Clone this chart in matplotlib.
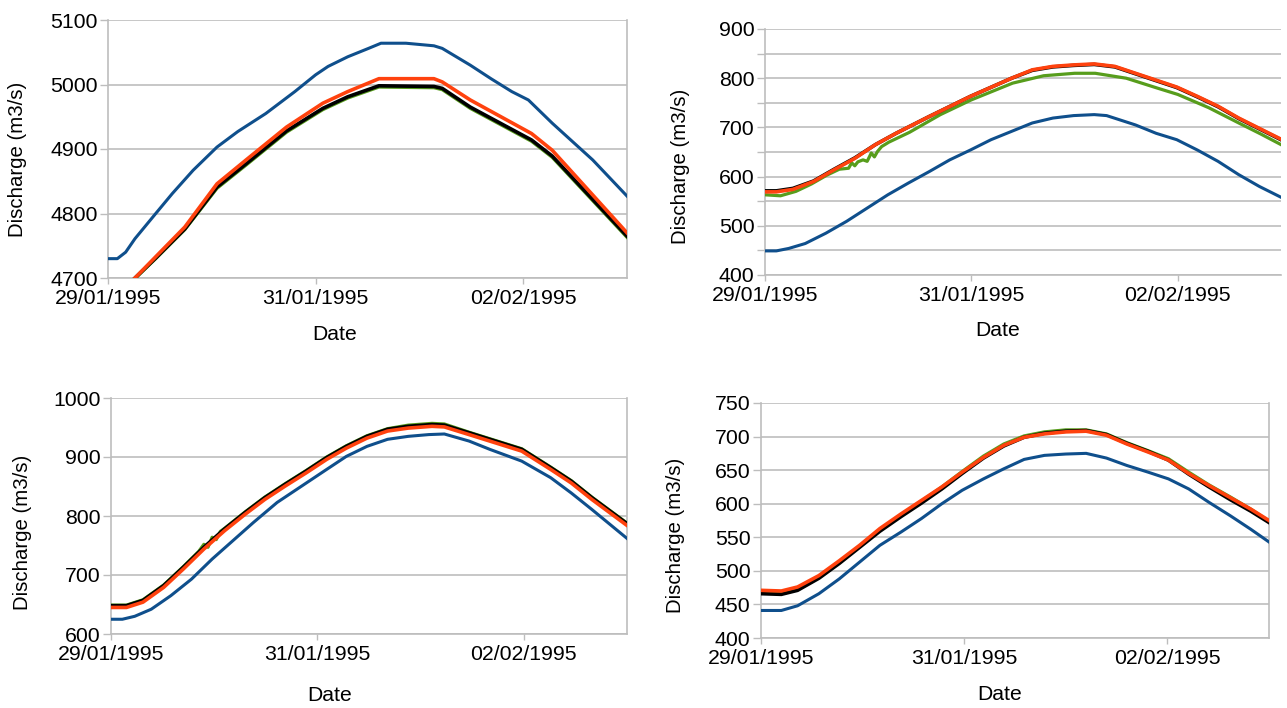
import numpy as np
import pandas as pd
import matplotlib
matplotlib.use('Agg')
import matplotlib.pyplot as plt
import matplotlib.dates as mdates
from matplotlib.ticker import MultipleLocator

plt.rcParams['font.family'] = ['Liberation Sans', 'DejaVu Sans']

start = pd.Timestamp('1995-01-29')

# panel 1 (days since 29/01/1995 00:00, discharge m3/s)
p1_blue_t = [0, 0.09, 0.17, 0.26, 0.46, 0.62, 0.82, 1.05, 1.25, 1.52, 1.80, 2.0, 2.12, 2.31, 2.51, 2.63, 2.87, 3.14, 3.22, 3.49, 3.69, 3.89, 4.05, 4.28, 4.67, 5.0]
p1_blue = [4730, 4730, 4740, 4761, 4800, 4831, 4867, 4903, 4927, 4955, 4989, 5015, 5028, 5043, 5056, 5064, 5064, 5060, 5056, 5030, 5009, 4989, 4976, 4940, 4883, 4827]
p1_t = [0, 0.26, 0.46, 0.74, 1.05, 1.33, 1.72, 2.07, 2.31, 2.61, 3.14, 3.22, 3.49, 4.08, 4.28, 5.0]
p1_red = [4656, 4700, 4733, 4779, 4846, 4883, 4934, 4971, 4989, 5009, 5009, 5004, 4976, 4924, 4898, 4770]
p1_black = [4656, 4700, 4731, 4776, 4841, 4877, 4928, 4963, 4981, 4998, 4997, 4994, 4965, 4914, 4889, 4765]
p1_green = [4655, 4699, 4730, 4775, 4839, 4875, 4926, 4961, 4979, 4996, 4995, 4992, 4963, 4912, 4887, 4763]

# panel 2
p2_blue_t = [0, 0.11, 0.23, 0.39, 0.59, 0.79, 0.99, 1.19, 1.39, 1.59, 1.79, 1.99, 2.19, 2.39, 2.59, 2.79, 2.99, 3.19, 3.31, 3.59, 3.79, 3.99, 4.19, 4.39, 4.59, 4.79, 5.0]
p2_blue = [449, 449, 454, 464, 485, 509, 536, 563, 587, 610, 634, 654, 675, 692, 709, 719, 724, 726, 724, 705, 688, 675, 654, 631, 604, 580, 558]
p2_t = [0, 0.11, 0.27, 0.47, 0.67, 0.87, 1.07, 1.27, 1.59, 1.99, 2.39, 2.59, 2.79, 2.99, 3.19, 3.39, 3.59, 3.99, 4.19, 4.39, 4.59, 4.79, 5.0]
p2_red = [569, 569, 574, 590, 614, 637, 665, 688, 722, 763, 800, 817, 824, 827, 829, 824, 810, 782, 763, 743, 719, 698, 676]
p2_black = [571, 571, 576, 591, 615, 638, 665, 688, 722, 763, 800, 816, 823, 826, 828, 823, 809, 781, 762, 742, 718, 697, 675]
p2_green_t = [0, 0.15, 0.3, 0.45, 0.6, 0.72, 0.81, 0.84, 0.87, 0.9, 0.95, 0.99, 1.03, 1.06, 1.09, 1.13, 1.2, 1.4, 1.7, 2.0, 2.4, 2.7, 3.0, 3.2, 3.5, 3.8, 4.0, 4.3, 4.6, 4.8, 5.0]
p2_green = [563, 561, 570, 585, 603, 615, 617, 628, 622, 630, 634, 631, 648, 640, 651, 661, 670, 690, 726, 756, 790, 805, 810, 810, 800, 780, 767, 740, 708, 687, 665]

# panel 3
p3_blue_t = [0, 0.11, 0.23, 0.39, 0.58, 0.78, 0.98, 1.18, 1.38, 1.61, 1.85, 2.09, 2.28, 2.48, 2.68, 2.88, 3.08, 3.23, 3.47, 3.67, 3.98, 4.26, 4.46, 4.66, 5.0]
p3_blue = [625, 625, 630, 642, 665, 693, 727, 758, 789, 823, 851, 879, 901, 918, 930, 935, 938, 939, 927, 913, 893, 865, 839, 811, 762]
p3_t = [0, 0.15, 0.31, 0.51, 0.70, 0.90, 1.10, 1.30, 1.49, 1.69, 1.89, 2.09, 2.28, 2.48, 2.68, 2.88, 3.11, 3.23, 3.47, 3.67, 3.98, 4.26, 4.46, 4.66, 5.0]
p3_red = [645, 645, 654, 679, 710, 744, 775, 803, 828, 851, 873, 896, 915, 932, 944, 949, 952, 951, 938, 927, 910, 879, 856, 828, 784]
p3_black = [648, 648, 657, 682, 713, 747, 778, 806, 831, 854, 876, 899, 918, 935, 947, 952, 955, 954, 941, 930, 913, 882, 859, 831, 787]
p3_green_t = [0, 0.15, 0.31, 0.51, 0.70, 0.85, 0.9, 0.94, 0.98, 1.02, 1.06, 1.10, 1.30, 1.49, 1.69, 1.89, 2.09, 2.28, 2.48, 2.68, 2.88, 3.11, 3.23, 3.47, 3.67, 3.98, 4.26, 4.46, 4.66, 5.0]
p3_green = [649, 649, 658, 683, 714, 740, 752, 747, 764, 760, 774, 779, 807, 832, 855, 877, 900, 919, 936, 948, 954, 957, 956, 942, 931, 914, 883, 860, 832, 788]

# panel 4
p4_t = [0, 0.2, 0.36, 0.57, 0.77, 0.97, 1.17, 1.38, 1.58, 1.78, 1.98, 2.19, 2.39, 2.59, 2.79, 3.0, 3.2, 3.4, 3.6, 3.81, 4.01, 4.21, 4.41, 4.62, 4.82, 5.0]
p4_blue = [441, 441, 448, 466, 488, 513, 538, 558, 578, 600, 620, 637, 652, 666, 672, 674, 675, 668, 657, 647, 637, 622, 602, 582, 562, 543]
p4_red = [471, 470, 476, 493, 515, 538, 563, 585, 605, 625, 647, 669, 687, 699, 704, 707, 708, 702, 689, 677, 665, 645, 627, 609, 592, 575]
p4_black = [466, 465, 471, 489, 511, 535, 559, 581, 601, 622, 645, 668, 686, 699, 705, 708, 709, 703, 690, 678, 665, 644, 625, 606, 589, 572]
p4_green = [467, 466, 472, 490, 512, 536, 561, 583, 604, 625, 648, 671, 689, 701, 707, 710, 710, 704, 691, 679, 667, 647, 628, 610, 592, 574]

BLUE = '#0f4f8c'
RED = '#ff420e'
GREEN = '#579d1c'
GRID = '#bdbdbd'


def dates(t):
    return start + pd.to_timedelta(t, unit='D')


W, H = 1287, 708
fig = plt.figure(figsize=(W / 100, H / 100), dpi=100)


def make_ax(l, r, top, bot):
    return fig.add_axes([l / W, (H - bot) / H, (r - l) / W, (bot - top) / H])


panels = [
    dict(box=(108, 627, 20, 278), ylim=(4700, 5100), step=100, minor=None,
         blue=(p1_blue_t, p1_blue), green=(p1_t, p1_green), black=(p1_t, p1_black), red=(p1_t, p1_red),
         xlab=(0.437, -0.22), ylab=(-0.175, 0.46), right=True),
    dict(box=(765, 1281, 29, 275), ylim=(400, 900), step=100, minor=50,
         blue=(p2_blue_t, p2_blue), green=(p2_green_t, p2_green), black=(p2_t, p2_black), red=(p2_t, p2_red),
         xlab=(0.45, -0.225), ylab=(-0.163, 0.44), right=False),
    dict(box=(111, 627, 398, 634), ylim=(600, 1000), step=100, minor=None,
         blue=(p3_blue_t, p3_blue), green=(p3_green_t, p3_green), black=(p3_t, p3_black), red=(p3_t, p3_red),
         xlab=(0.424, -0.26), ylab=(-0.172, 0.432), right=True),
    dict(box=(761, 1269, 403, 638), ylim=(400, 750), step=50, minor=None,
         blue=(p4_t, p4_blue), green=(p4_t, p4_green), black=(p4_t, p4_black), red=(p4_t, p4_red),
         xlab=(0.47, -0.24), ylab=(-0.169, 0.438), right=True),
]

for p in panels:
    ax = make_ax(*p['box'])
    ax.plot(dates(p['blue'][0]), p['blue'][1], color=BLUE, lw=2.2, zorder=3)
    ax.plot(dates(p['green'][0]), p['green'][1], color=GREEN, lw=2.3, zorder=4)
    ax.plot(dates(p['black'][0]), p['black'][1], color='black', lw=2.6, zorder=5)
    ax.plot(dates(p['red'][0]), p['red'][1], color=RED, lw=2.6, zorder=6)

    ax.set_xlim(start, start + pd.Timedelta(days=5))
    ax.set_ylim(*p['ylim'])
    ax.yaxis.set_major_locator(MultipleLocator(p['step']))
    if p['minor']:
        ax.yaxis.set_minor_locator(MultipleLocator(p['minor']))
        ax.grid(True, axis='y', which='minor', color=GRID, lw=1.2)
        ax.tick_params(axis='y', which='minor', length=5.5, color=GRID, width=1)
    ax.xaxis.set_major_locator(mdates.DayLocator(bymonthday=[29, 31, 2]))
    ax.xaxis.set_major_formatter(mdates.DateFormatter('%d/%m/%Y'))
    ax.grid(True, axis='y', which='major', color=GRID, lw=1.2)
    ax.set_axisbelow(True)

    for s in ax.spines.values():
        s.set_color(GRID)
        s.set_linewidth(1.2)
    ax.spines['top'].set_visible(False)
    if not p['right']:
        ax.spines['right'].set_visible(False)

    ax.tick_params(axis='y', which='major', length=5.5, color=GRID, width=1, pad=2, labelsize=15.3)
    ax.tick_params(axis='x', length=4, color=GRID, width=1, pad=4, labelsize=15.3)

    ax.set_xlabel('Date', fontsize=15.2, va='center')
    ax.xaxis.set_label_coords(*p['xlab'])
    ax.set_ylabel('Discharge (m3/s)', fontsize=14.7, va='center')
    ax.yaxis.set_label_coords(*p['ylab'])

fig.savefig('out.png', dpi=100)
